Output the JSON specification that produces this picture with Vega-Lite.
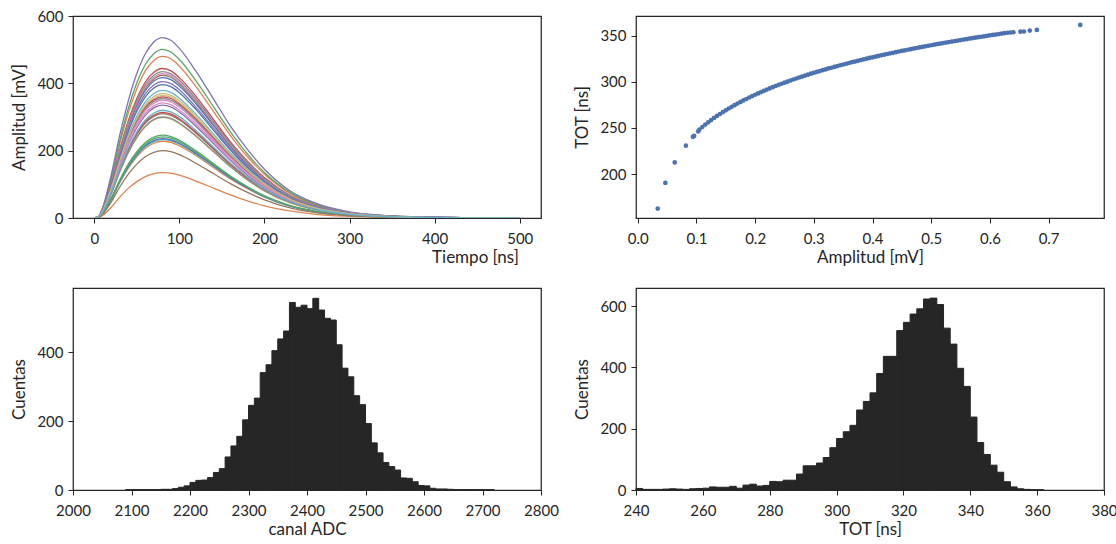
{
  "$schema": "https://vega.github.io/schema/vega-lite/v6.json",
  "padding": {"left": 10, "top": 8, "right": 5, "bottom": 5},
  "background": "white",
  "bounds": "flush",
  "columns": 2,
  "spacing": {"row": 70, "column": 95},
  "config": {
    "font": "Lato",
    "view": {"stroke": "#262626", "strokeWidth": 1.25},
    "axis": {
      "grid": false, "domain": false,
      "tickColor": "#262626", "tickSize": 5, "tickWidth": 1,
      "labelFont": "Lato", "titleFont": "Lato",
      "labelFontSize": 15, "titleFontSize": 17,
      "labelColor": "#262626", "titleColor": "#262626",
      "titleFontWeight": "normal", "labelPadding": 5,
      "labelOverlap": false, "labelBound": false
    },
    "axisX": {"labelFlush": false, "labelPadding": 8, "titlePadding": 3},
    "axisY": {"titlePadding": 8}
  },
  "datasets": {
    "pulsos": [
      {"t":0,"c00":0,"c01":0,"c02":0,"c03":0,"c04":0,"c05":0,"c06":0,"c07":0,"c08":0,"c09":0,"c10":0,"c11":0,"c12":0,"c13":0,"c14":0,"c15":0,"c16":0,"c17":0,"c18":0,"c19":0,"c20":0,"c21":0,"c22":0,"c23":0,"c24":0,"c25":0,"c26":0,"c27":0,"c28":0,"c29":0},
      {"t":5,"c00":4,"c01":5,"c02":5,"c03":4,"c04":5,"c05":4,"c06":4,"c07":4,"c08":4,"c09":4,"c10":4,"c11":2,"c12":2,"c13":4,"c14":3,"c15":3,"c16":3,"c17":4,"c18":3,"c19":2,"c20":2,"c21":1,"c22":2,"c23":3,"c24":4,"c25":2,"c26":4,"c27":3,"c28":4,"c29":3},
      {"t":10,"c00":25,"c01":29,"c02":30,"c03":27,"c04":32,"c05":25,"c06":26,"c07":26,"c08":22,"c09":23,"c10":24,"c11":14,"c12":15,"c13":22,"c14":20,"c15":19,"c16":21,"c17":21,"c18":18,"c19":14,"c20":14,"c21":8,"c22":14,"c23":19,"c24":24,"c25":12,"c26":21,"c27":18,"c28":22,"c29":19},
      {"t":20,"c00":100,"c01":115,"c02":120,"c03":107,"c04":129,"c05":102,"c06":103,"c07":104,"c08":87,"c09":91,"c10":95,"c11":55,"c12":59,"c13":86,"c14":80,"c15":74,"c16":82,"c17":85,"c18":72,"c19":56,"c20":57,"c21":32,"c22":58,"c23":75,"c24":97,"c25":48,"c26":84,"c27":72,"c28":89,"c29":77},
      {"t":30,"c00":192,"c01":221,"c02":230,"c03":204,"c04":247,"c05":195,"c06":197,"c07":200,"c08":167,"c09":174,"c10":182,"c11":105,"c12":113,"c13":166,"c14":154,"c15":143,"c16":157,"c17":163,"c18":137,"c19":107,"c20":109,"c21":62,"c22":111,"c23":144,"c24":186,"c25":92,"c26":161,"c27":138,"c28":170,"c29":147},
      {"t":40,"c00":271,"c01":312,"c02":326,"c03":289,"c04":348,"c05":276,"c06":279,"c07":283,"c08":237,"c09":246,"c10":257,"c11":148,"c12":160,"c13":234,"c14":218,"c15":202,"c16":222,"c17":231,"c18":194,"c19":151,"c20":153,"c21":88,"c22":157,"c23":204,"c24":263,"c25":130,"c26":228,"c27":195,"c28":241,"c29":208},
      {"t":50,"c00":334,"c01":384,"c02":401,"c03":355,"c04":429,"c05":339,"c06":343,"c07":348,"c08":291,"c09":303,"c10":317,"c11":182,"c12":197,"c13":288,"c14":268,"c15":248,"c16":274,"c17":284,"c18":238,"c19":186,"c20":189,"c21":108,"c22":193,"c23":251,"c24":324,"c25":160,"c26":280,"c27":240,"c28":296,"c29":256},
      {"t":60,"c00":379,"c01":437,"c02":456,"c03":404,"c04":488,"c05":386,"c06":390,"c07":396,"c08":331,"c09":345,"c10":360,"c11":207,"c12":224,"c13":328,"c14":305,"c15":282,"c16":311,"c17":323,"c18":271,"c19":212,"c20":215,"c21":123,"c22":219,"c23":286,"c24":369,"c25":182,"c26":319,"c27":273,"c28":337,"c29":291},
      {"t":70,"c00":407,"c01":468,"c02":488,"c03":433,"c04":523,"c05":413,"c06":418,"c07":424,"c08":355,"c09":370,"c10":386,"c11":222,"c12":240,"c13":351,"c14":327,"c15":302,"c16":333,"c17":346,"c18":291,"c19":227,"c20":230,"c21":132,"c22":235,"c23":306,"c24":395,"c25":195,"c26":341,"c27":293,"c28":361,"c29":312},
      {"t":80,"c00":417,"c01":480,"c02":501,"c03":444,"c04":536,"c05":424,"c06":429,"c07":435,"c08":364,"c09":379,"c10":396,"c11":228,"c12":246,"c13":360,"c14":335,"c15":310,"c16":342,"c17":355,"c18":298,"c19":233,"c20":236,"c21":135,"c22":241,"c23":314,"c24":405,"c25":200,"c26":350,"c27":300,"c28":370,"c29":320},
      {"t":90,"c00":411,"c01":473,"c02":493,"c03":437,"c04":528,"c05":418,"c06":423,"c07":428,"c08":359,"c09":373,"c10":390,"c11":225,"c12":242,"c13":355,"c14":330,"c15":305,"c16":337,"c17":350,"c18":294,"c19":230,"c20":232,"c21":133,"c22":237,"c23":309,"c24":399,"c25":197,"c26":345,"c27":296,"c28":364,"c29":315},
      {"t":100,"c00":392,"c01":451,"c02":471,"c03":417,"c04":504,"c05":399,"c06":403,"c07":409,"c08":342,"c09":356,"c10":372,"c11":214,"c12":231,"c13":338,"c14":315,"c15":291,"c16":321,"c17":334,"c18":280,"c19":219,"c20":222,"c21":127,"c22":227,"c23":295,"c24":381,"c25":188,"c26":329,"c27":282,"c28":348,"c29":301},
      {"t":120,"c00":338,"c01":389,"c02":406,"c03":360,"c04":434,"c05":343,"c06":347,"c07":352,"c08":295,"c09":307,"c10":321,"c11":185,"c12":199,"c13":292,"c14":271,"c15":251,"c16":277,"c17":288,"c18":241,"c19":189,"c20":191,"c21":109,"c22":195,"c23":254,"c24":328,"c25":162,"c26":284,"c27":243,"c28":300,"c29":259},
      {"t":140,"c00":275,"c01":317,"c02":331,"c03":293,"c04":354,"c05":280,"c06":283,"c07":287,"c08":240,"c09":250,"c10":261,"c11":150,"c12":162,"c13":238,"c14":221,"c15":205,"c16":226,"c17":234,"c18":197,"c19":154,"c20":156,"c21":89,"c22":159,"c23":207,"c24":267,"c25":132,"c26":231,"c27":198,"c28":244,"c29":211},
      {"t":160,"c00":213,"c01":245,"c02":256,"c03":226,"c04":273,"c05":216,"c06":219,"c07":222,"c08":186,"c09":193,"c10":202,"c11":116,"c12":125,"c13":184,"c14":171,"c15":158,"c16":174,"c17":181,"c18":152,"c19":119,"c20":120,"c21":69,"c22":123,"c23":160,"c24":207,"c25":102,"c26":179,"c27":153,"c28":189,"c29":163},
      {"t":180,"c00":158,"c01":182,"c02":190,"c03":169,"c04":204,"c05":161,"c06":163,"c07":165,"c08":138,"c09":144,"c10":150,"c11":87,"c12":93,"c13":137,"c14":127,"c15":118,"c16":130,"c17":135,"c18":113,"c19":89,"c20":90,"c21":51,"c22":92,"c23":119,"c24":154,"c25":76,"c26":133,"c27":114,"c28":141,"c29":122},
      {"t":200,"c00":113,"c01":130,"c02":135,"c03":120,"c04":145,"c05":114,"c06":116,"c07":117,"c08":98,"c09":102,"c10":107,"c11":62,"c12":66,"c13":97,"c14":90,"c15":84,"c16":92,"c17":96,"c18":80,"c19":63,"c20":64,"c21":36,"c22":65,"c23":85,"c24":109,"c25":54,"c26":95,"c27":81,"c28":100,"c29":86},
      {"t":230,"c00":63,"c01":73,"c02":76,"c03":67,"c04":81,"c05":64,"c06":65,"c07":66,"c08":55,"c09":58,"c10":60,"c11":35,"c12":37,"c13":55,"c14":51,"c15":47,"c16":52,"c17":54,"c18":45,"c19":35,"c20":36,"c21":21,"c22":37,"c23":48,"c24":62,"c25":30,"c26":53,"c27":46,"c28":56,"c29":49},
      {"t":260,"c00":34,"c01":39,"c02":41,"c03":36,"c04":44,"c05":35,"c06":35,"c07":36,"c08":30,"c09":31,"c10":32,"c11":19,"c12":20,"c13":30,"c14":27,"c15":25,"c16":28,"c17":29,"c18":24,"c19":19,"c20":19,"c21":11,"c22":20,"c23":26,"c24":33,"c25":16,"c26":29,"c27":25,"c28":30,"c29":26},
      {"t":300,"c00":14,"c01":16,"c02":17,"c03":15,"c04":18,"c05":14,"c06":15,"c07":15,"c08":12,"c09":13,"c10":13,"c11":8,"c12":8,"c13":12,"c14":11,"c15":11,"c16":12,"c17":12,"c18":10,"c19":8,"c20":8,"c21":5,"c22":8,"c23":11,"c24":14,"c25":7,"c26":12,"c27":10,"c28":13,"c29":11},
      {"t":350,"c00":5,"c01":6,"c02":6,"c03":5,"c04":6,"c05":5,"c06":5,"c07":5,"c08":4,"c09":5,"c10":5,"c11":3,"c12":3,"c13":4,"c14":4,"c15":4,"c16":4,"c17":4,"c18":4,"c19":3,"c20":3,"c21":2,"c22":3,"c23":4,"c24":5,"c25":2,"c26":4,"c27":4,"c28":4,"c29":4},
      {"t":400,"c00":2,"c01":2,"c02":2,"c03":2,"c04":2,"c05":2,"c06":2,"c07":2,"c08":1,"c09":2,"c10":2,"c11":1,"c12":1,"c13":1,"c14":1,"c15":1,"c16":1,"c17":1,"c18":1,"c19":1,"c20":1,"c21":1,"c22":1,"c23":1,"c24":2,"c25":1,"c26":1,"c27":1,"c28":1,"c29":1},
      {"t":450,"c00":1,"c01":1,"c02":1,"c03":1,"c04":1,"c05":1,"c06":1,"c07":1,"c08":1,"c09":1,"c10":1,"c11":0,"c12":0,"c13":1,"c14":1,"c15":0,"c16":1,"c17":1,"c18":0,"c19":0,"c20":0,"c21":0,"c22":0,"c23":0,"c24":1,"c25":0,"c26":1,"c27":0,"c28":1,"c29":0},
      {"t":500,"c00":0,"c01":0,"c02":0,"c03":0,"c04":0,"c05":0,"c06":0,"c07":0,"c08":0,"c09":0,"c10":0,"c11":0,"c12":0,"c13":0,"c14":0,"c15":0,"c16":0,"c17":0,"c18":0,"c19":0,"c20":0,"c21":0,"c22":0,"c23":0,"c24":0,"c25":0,"c26":0,"c27":0,"c28":0,"c29":0}
    ],
    "dispersion": [
      {"a":0.034,"tot":162.5},{"a":0.047,"tot":190.3},{"a":0.063,"tot":212.6},{"a":0.082,"tot":230.7},{"a":0.094,"tot":240.3},{"a":0.096,"tot":241.3},{"a":0.103,"tot":246.2},
      {"a":0.105,"tot":248.2},{"a":0.11,"tot":251.0},{"a":0.115,"tot":253.6},{"a":0.12,"tot":256.1},{"a":0.125,"tot":258.5},{"a":0.13,"tot":260.8},{"a":0.135,"tot":263.0},{"a":0.14,"tot":265.1},{"a":0.145,"tot":267.2},{"a":0.15,"tot":269.1},
      {"a":0.155,"tot":271.1},{"a":0.16,"tot":272.9},{"a":0.165,"tot":274.7},{"a":0.17,"tot":276.5},{"a":0.175,"tot":278.2},{"a":0.18,"tot":279.8},{"a":0.185,"tot":281.4},{"a":0.19,"tot":283.0},{"a":0.195,"tot":284.5},{"a":0.2,"tot":286.0},
      {"a":0.205,"tot":287.4},{"a":0.21,"tot":288.9},{"a":0.215,"tot":290.2},{"a":0.22,"tot":291.6},{"a":0.225,"tot":292.9},{"a":0.23,"tot":294.2},{"a":0.235,"tot":295.5},{"a":0.24,"tot":296.7},{"a":0.245,"tot":297.9},{"a":0.25,"tot":299.1},
      {"a":0.255,"tot":300.2},{"a":0.26,"tot":301.4},{"a":0.265,"tot":302.5},{"a":0.27,"tot":303.6},{"a":0.275,"tot":304.7},{"a":0.28,"tot":305.7},{"a":0.285,"tot":306.8},{"a":0.29,"tot":307.8},{"a":0.295,"tot":308.8},{"a":0.3,"tot":309.8},
      {"a":0.305,"tot":310.7},{"a":0.31,"tot":311.7},{"a":0.315,"tot":312.6},{"a":0.32,"tot":313.5},{"a":0.325,"tot":314.5},{"a":0.33,"tot":315.3},{"a":0.335,"tot":316.2},{"a":0.34,"tot":317.1},{"a":0.345,"tot":318.0},{"a":0.35,"tot":318.8},
      {"a":0.355,"tot":319.6},{"a":0.36,"tot":320.4},{"a":0.365,"tot":321.3},{"a":0.37,"tot":322.0},{"a":0.375,"tot":322.8},{"a":0.38,"tot":323.6},{"a":0.385,"tot":324.4},{"a":0.39,"tot":325.1},{"a":0.395,"tot":325.9},{"a":0.4,"tot":326.6},
      {"a":0.405,"tot":327.3},{"a":0.41,"tot":328.1},{"a":0.415,"tot":328.8},{"a":0.42,"tot":329.5},{"a":0.425,"tot":330.2},{"a":0.43,"tot":330.9},{"a":0.435,"tot":331.5},{"a":0.44,"tot":332.2},{"a":0.445,"tot":332.9},{"a":0.45,"tot":333.5},
      {"a":0.455,"tot":334.2},{"a":0.46,"tot":334.8},{"a":0.465,"tot":335.4},{"a":0.47,"tot":336.1},{"a":0.475,"tot":336.7},{"a":0.48,"tot":337.3},{"a":0.485,"tot":337.9},{"a":0.49,"tot":338.5},{"a":0.495,"tot":339.1},{"a":0.5,"tot":339.7},
      {"a":0.505,"tot":340.3},{"a":0.51,"tot":340.9},{"a":0.515,"tot":341.4},{"a":0.52,"tot":342.0},{"a":0.525,"tot":342.6},{"a":0.53,"tot":343.1},{"a":0.535,"tot":343.7},{"a":0.54,"tot":344.2},{"a":0.545,"tot":344.7},{"a":0.55,"tot":345.3},
      {"a":0.555,"tot":345.8},{"a":0.56,"tot":346.3},{"a":0.565,"tot":346.9},{"a":0.57,"tot":347.4},{"a":0.575,"tot":347.9},{"a":0.58,"tot":348.4},{"a":0.585,"tot":348.9},{"a":0.59,"tot":349.4},{"a":0.595,"tot":349.9},{"a":0.6,"tot":350.4},
      {"a":0.605,"tot":350.9},{"a":0.61,"tot":351.3},{"a":0.615,"tot":351.8},{"a":0.62,"tot":352.3},{"a":0.625,"tot":352.8},{"a":0.63,"tot":353.2},{"a":0.635,"tot":353.5},{"a":0.64,"tot":353.8},
      {"a":0.652,"tot":354.4},{"a":0.658,"tot":354.6},{"a":0.668,"tot":355.6},{"a":0.68,"tot":356.3},{"a":0.754,"tot":361.7}
    ],
    "adc": [
      {"x0":2090,"x1":2100,"n":1},{"x0":2100,"x1":2110,"n":1},{"x0":2110,"x1":2120,"n":1},{"x0":2120,"x1":2130,"n":1},{"x0":2130,"x1":2140,"n":1},{"x0":2140,"x1":2150,"n":1},
      {"x0":2150,"x1":2160,"n":2},{"x0":2160,"x1":2170,"n":2},{"x0":2170,"x1":2180,"n":4},{"x0":2180,"x1":2190,"n":8},{"x0":2190,"x1":2200,"n":12},
      {"x0":2200,"x1":2210,"n":22},{"x0":2210,"x1":2220,"n":28},{"x0":2220,"x1":2230,"n":29},{"x0":2230,"x1":2240,"n":36},{"x0":2240,"x1":2250,"n":51},
      {"x0":2250,"x1":2260,"n":62},{"x0":2260,"x1":2270,"n":96},{"x0":2270,"x1":2280,"n":128},{"x0":2280,"x1":2290,"n":156},{"x0":2290,"x1":2300,"n":204},
      {"x0":2300,"x1":2310,"n":246},{"x0":2310,"x1":2320,"n":267},{"x0":2320,"x1":2330,"n":341},{"x0":2330,"x1":2340,"n":364},{"x0":2340,"x1":2350,"n":405},
      {"x0":2350,"x1":2360,"n":439},{"x0":2360,"x1":2370,"n":462},{"x0":2370,"x1":2380,"n":545},{"x0":2380,"x1":2390,"n":531},{"x0":2390,"x1":2400,"n":537},
      {"x0":2400,"x1":2410,"n":527},{"x0":2410,"x1":2420,"n":557},{"x0":2420,"x1":2430,"n":523},{"x0":2430,"x1":2440,"n":499},{"x0":2440,"x1":2450,"n":494},
      {"x0":2450,"x1":2460,"n":422},{"x0":2460,"x1":2470,"n":354},{"x0":2470,"x1":2480,"n":329},{"x0":2480,"x1":2490,"n":274},{"x0":2490,"x1":2500,"n":248},
      {"x0":2500,"x1":2510,"n":193},{"x0":2510,"x1":2520,"n":137},{"x0":2520,"x1":2530,"n":108},{"x0":2530,"x1":2540,"n":80},{"x0":2540,"x1":2550,"n":68},
      {"x0":2550,"x1":2560,"n":58},{"x0":2560,"x1":2570,"n":35},{"x0":2570,"x1":2580,"n":34},{"x0":2580,"x1":2590,"n":24},{"x0":2590,"x1":2600,"n":13},
      {"x0":2600,"x1":2610,"n":12},{"x0":2610,"x1":2620,"n":5},{"x0":2620,"x1":2630,"n":3},{"x0":2630,"x1":2640,"n":3},{"x0":2640,"x1":2650,"n":2},
      {"x0":2650,"x1":2660,"n":1},{"x0":2660,"x1":2670,"n":1},{"x0":2670,"x1":2680,"n":1},{"x0":2680,"x1":2690,"n":1},{"x0":2690,"x1":2700,"n":1},{"x0":2700,"x1":2710,"n":1},{"x0":2710,"x1":2720,"n":1}
    ],
    "tot": [
      {"x0":240,"x1":242,"n":5},{"x0":242,"x1":244,"n":2},{"x0":244,"x1":246,"n":2},{"x0":246,"x1":248,"n":2},{"x0":248,"x1":250,"n":3},
      {"x0":250,"x1":252,"n":4},{"x0":252,"x1":254,"n":3},{"x0":254,"x1":256,"n":2},{"x0":256,"x1":258,"n":4},{"x0":258,"x1":260,"n":5},
      {"x0":260,"x1":262,"n":6},{"x0":262,"x1":264,"n":10},{"x0":264,"x1":266,"n":9},{"x0":266,"x1":268,"n":9},{"x0":268,"x1":270,"n":12},
      {"x0":270,"x1":272,"n":6},{"x0":272,"x1":274,"n":16},{"x0":274,"x1":276,"n":19},{"x0":276,"x1":278,"n":13},{"x0":278,"x1":280,"n":15},
      {"x0":280,"x1":282,"n":28},{"x0":282,"x1":284,"n":27},{"x0":284,"x1":286,"n":32},{"x0":286,"x1":288,"n":32},{"x0":288,"x1":290,"n":52},
      {"x0":290,"x1":292,"n":79},{"x0":292,"x1":294,"n":79},{"x0":294,"x1":296,"n":88},{"x0":296,"x1":298,"n":106},{"x0":298,"x1":300,"n":138},
      {"x0":300,"x1":302,"n":168},{"x0":302,"x1":304,"n":190},{"x0":304,"x1":306,"n":211},{"x0":306,"x1":308,"n":261},{"x0":308,"x1":310,"n":289},
      {"x0":310,"x1":312,"n":317},{"x0":312,"x1":314,"n":380},{"x0":314,"x1":316,"n":436},{"x0":316,"x1":318,"n":436},{"x0":318,"x1":320,"n":520},
      {"x0":320,"x1":322,"n":547},{"x0":322,"x1":324,"n":574},{"x0":324,"x1":326,"n":591},{"x0":326,"x1":328,"n":623},{"x0":328,"x1":330,"n":626},
      {"x0":330,"x1":332,"n":605},{"x0":332,"x1":334,"n":528},{"x0":334,"x1":336,"n":476},{"x0":336,"x1":338,"n":397},{"x0":338,"x1":340,"n":338},
      {"x0":340,"x1":342,"n":238},{"x0":342,"x1":344,"n":155},{"x0":344,"x1":346,"n":116},{"x0":346,"x1":348,"n":81},{"x0":348,"x1":350,"n":58},
      {"x0":350,"x1":352,"n":27},{"x0":352,"x1":354,"n":10},{"x0":354,"x1":356,"n":4},{"x0":356,"x1":358,"n":2},{"x0":358,"x1":360,"n":1},{"x0":360,"x1":362,"n":1}
    ]
  },
  "concat": [
    {
      "width": 468, "height": 202,
      "data": {"name": "pulsos"},
      "transform": [{"fold": ["c00","c01","c02","c03","c04","c05","c06","c07","c08","c09","c10","c11","c12","c13","c14","c15","c16","c17","c18","c19","c20","c21","c22","c23","c24","c25","c26","c27","c28","c29"], "as": ["curva","v"]}],
      "mark": {"type": "line", "interpolate": "monotone", "strokeWidth": 1.3, "clip": true},
      "encoding": {
        "x": {"field": "t", "type": "quantitative", "scale": {"domain": [-25, 525], "nice": false, "zero": false},
              "axis": {"values": [0,100,200,300,400,500], "title": "Tiempo [ns]", "titleX": 402, "titleAlign": "center", "titleAnchor": "start"}},
        "y": {"field": "v", "type": "quantitative", "scale": {"domain": [0, 600], "nice": false},
              "axis": {"values": [0,200,400,600], "title": "Amplitud [mV]"}},
        "color": {"field": "curva", "type": "nominal", "legend": null,
                  "scale": {"range": ["#4C72B0","#DD8452","#55A868","#C44E52","#8172B3","#937860","#DA8BC3","#8C8C8C","#CCB974","#64B5CD"]}}
      }
    },
    {
      "width": 468, "height": 202,
      "data": {"name": "dispersion"},
      "mark": {"type": "point", "filled": true, "size": 22, "opacity": 1, "color": "#4C72B0", "strokeWidth": 0},
      "encoding": {
        "x": {"field": "a", "type": "quantitative", "scale": {"domain": [-0.003, 0.7944], "nice": false, "zero": false},
              "axis": {"values": [0,0.1,0.2,0.3,0.4,0.5,0.6,0.7], "format": ".1f", "title": "Amplitud [mV]"}},
        "y": {"field": "tot", "type": "quantitative", "scale": {"domain": [152.3, 371.4], "nice": false, "zero": false},
              "axis": {"values": [200,250,300,350], "title": "TOT [ns]"}}
      }
    },
    {
      "width": 468, "height": 202,
      "data": {"name": "adc"},
      "mark": {"type": "bar", "color": "#262626", "stroke": "#262626", "strokeWidth": 1},
      "encoding": {
        "x": {"field": "x0", "type": "quantitative", "scale": {"domain": [2000, 2800], "nice": false, "zero": false},
              "axis": {"values": [2000,2100,2200,2300,2400,2500,2600,2700,2800], "format": "d", "title": "canal ADC"}},
        "x2": {"field": "x1"},
        "y": {"field": "n", "type": "quantitative", "scale": {"domain": [0, 587], "nice": false},
              "axis": {"values": [0,200,400], "title": "Cuentas"}},
        "y2": {"datum": 0}
      }
    },
    {
      "width": 468, "height": 202,
      "data": {"name": "tot"},
      "mark": {"type": "bar", "color": "#262626", "stroke": "#262626", "strokeWidth": 1},
      "encoding": {
        "x": {"field": "x0", "type": "quantitative", "scale": {"domain": [240, 380], "nice": false, "zero": false},
              "axis": {"values": [240,260,280,300,320,340,360,380], "format": "d", "title": "TOT [ns]"}},
        "x2": {"field": "x1"},
        "y": {"field": "n", "type": "quantitative", "scale": {"domain": [0, 659], "nice": false},
              "axis": {"values": [0,200,400,600], "title": "Cuentas"}},
        "y2": {"datum": 0}
      }
    }
  ]
}
